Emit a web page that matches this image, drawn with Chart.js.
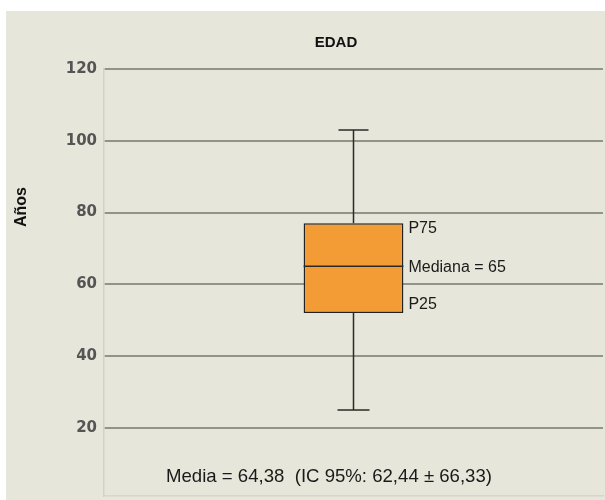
<!DOCTYPE html>
<html>
<head>
<meta charset="utf-8">
<script src="https://cdn.jsdelivr.net/npm/chart.js"></script>
<style>
  body { margin: 0; background: #ffffff; }
</style>
</head>
<body>
<canvas id="edad-chart" width="605" height="500"></canvas>
<script>
// Datos del diagrama de caja (edad en años)
var categorias = ["EDAD"];
var minimo = [25];
var p25 = [52];
var mediana = [65];
var p75 = [77];
var maximo = [103];
var ticksY = [20, 40, 60, 80, 100, 120];
var textoMedia = "Media = 64,38  (IC 95%: 62,44 \u00B1 66,33)";

var canvas = document.getElementById("edad-chart");
var ctx = canvas.getContext("2d");

// Fondo beige con borde blanco arriba y a la izquierda
var fondo = {
  id: "fondo",
  beforeDraw: function (chart) {
    var c = chart.ctx;
    c.save();
    c.fillStyle = "#e6e6da";
    c.fillRect(6, 11, chart.width - 6, chart.height - 11);
    c.restore();
  }
};

// Bigotes, mediana y textos
var caja = {
  id: "caja",
  afterDatasetsDraw: function (chart) {
    var c = chart.ctx;
    var y = chart.scales.y;
    var meta = chart.getDatasetMeta(0);
    c.save();
    meta.data.forEach(function (bar, i) {
      var x = bar.x;
      var mitad = bar.width / 2;
      var yMin = y.getPixelForValue(minimo[i]);
      var yMax = y.getPixelForValue(maximo[i]);
      var y25 = y.getPixelForValue(p25[i]);
      var y75 = y.getPixelForValue(p75[i]);
      var yMed = y.getPixelForValue(mediana[i]);

      c.strokeStyle = "#2a2a2a";
      c.lineWidth = 1.5;
      c.beginPath();
      c.moveTo(x, y75); c.lineTo(x, yMax);
      c.moveTo(x - 15, yMax); c.lineTo(x + 15, yMax);
      c.moveTo(x, y25); c.lineTo(x, yMin);
      c.moveTo(x - 16, yMin); c.lineTo(x + 16, yMin);
      c.moveTo(x - mitad, yMed); c.lineTo(x + mitad, yMed);
      c.stroke();

      c.fillStyle = "#1a1a1a";
      c.font = "16px 'Liberation Sans', Arial, sans-serif";
      c.textAlign = "left";
      c.textBaseline = "middle";
      c.fillText("P75", x + mitad + 5, y75 + 5);
      c.fillText("Mediana = " + mediana[i], x + mitad + 5, yMed + 1);
      c.fillText("P25", x + mitad + 5, y25 - 8);
    });

    // Título
    c.fillStyle = "#111111";
    c.font = "bold 15px 'Liberation Sans', Arial, sans-serif";
    c.textAlign = "center";
    c.textBaseline = "middle";
    c.fillText(categorias[0], 336, 43);

    // Etiqueta del eje Y
    c.save();
    c.translate(22, 207);
    c.rotate(-Math.PI / 2);
    c.font = "bold 16px 'Liberation Sans', Arial, sans-serif";
    c.fillText("A\u00F1os", 0, 0);
    c.restore();

    // Media e intervalo de confianza
    c.fillStyle = "#1a1a1a";
    c.font = "18.6px 'Liberation Sans', Arial, sans-serif";
    c.textAlign = "left";
    c.fillText(textoMedia, 166, 477);
    c.restore();
  }
};

var chart = new Chart(ctx, {
  type: "bar",
  data: {
    labels: categorias,
    datasets: [
      {
        label: "Edad",
        data: p25.map(function (v, i) { return [v, p75[i]]; }),
        backgroundColor: "#f39c36",
        borderColor: "#222222",
        borderWidth: 1.5,
        borderSkipped: false,
        barPercentage: 0.2,
        categoryPercentage: 1
      }
    ]
  },
  options: {
    responsive: false,
    animation: false,
    layout: { padding: { left: 0, top: 69, right: 2, bottom: 4 } },
    plugins: {
      legend: { display: false },
      title: { display: false },
      tooltip: { enabled: false }
    },
    scales: {
      x: {
        ticks: { display: false },
        grid: { display: false },
        border: { display: true, color: "#d6d6cc", width: 1.5 },
        afterFit: function (s) { s.height = 0; s.paddingLeft = 0; s.paddingRight = 0; }
      },
      y: {
        min: 1,
        max: 120,
        afterBuildTicks: function (s) {
          s.ticks = ticksY.map(function (v) { return { value: v }; });
        },
        afterFit: function (s) { s.width = 104; s.paddingTop = 0; s.paddingBottom = 0; },
        ticks: {
          padding: 7,
          color: "#555555",
          font: { family: "'DejaVu Sans', sans-serif", size: 15, weight: "bold" }
        },
        grid: { color: "#929488", lineWidth: 2, drawTicks: false },
        border: { display: true, color: "#d2d2c8", width: 1.5 }
      }
    }
  },
  plugins: [fondo, caja]
});
</script>
</body>
</html>
